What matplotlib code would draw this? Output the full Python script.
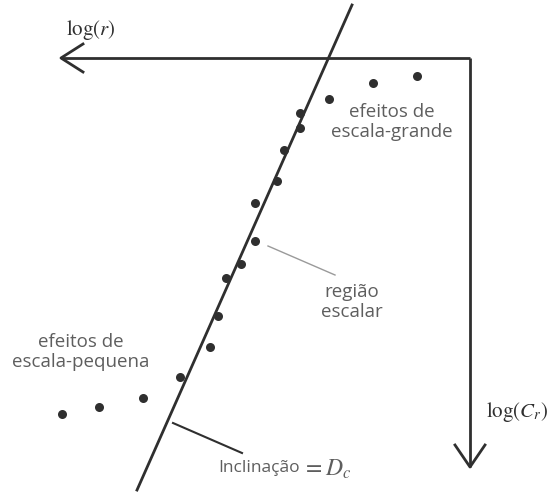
import numpy as np
import matplotlib
matplotlib.use("Agg")
import matplotlib.pyplot as plt

plt.rcParams['mathtext.fontset'] = 'stix'

# log(r) grows to the left, log(C_r) grows downward, origin at the axes corner
log_r = [53, 97, 141, 170, 170, 186, 193, 215, 215, 229, 244, 252, 260, 290, 327, 371, 408]
log_c = [18, 25, 41, 55, 70, 92, 123, 145, 183, 206, 220, 258, 289, 319, 340, 349, 356]

# straight-line fit through the scaling region
slope = 2.256          # D_c
intercept = -319.2
fit_r = [118, 333]

axis_len = 409
ink = '#2f2f2f'
grey = '#5e5e5e'

fig = plt.figure(figsize=(5.56, 4.92), dpi=100)
ax = fig.add_axes([0, 0, 1, 1])
ax.set_xlim(470, -86)
ax.set_ylim(434, -58)
ax.axis('off')

# the two axes with open arrow heads
ax.plot([0, axis_len], [0, 0], color=ink, lw=2, solid_capstyle='butt')
ax.plot([0, 0], [0, axis_len], color=ink, lw=2, solid_capstyle='butt')
ax.plot([axis_len - 22, axis_len, axis_len - 22], [-14, 0, 14], color=ink, lw=2)
ax.plot([-15, 0, 15], [axis_len - 22, axis_len, axis_len - 22], color=ink, lw=2)

fr = np.array(fit_r)
ax.plot(fr, slope * fr + intercept, color=ink, lw=2)
ax.plot(log_r, log_c, 'o', color=ink, ms=6.5, mec='none')

ax.text(379, -28, r'$\log(r)$', fontsize=15, ha='center', va='center', color=ink)
ax.text(-47, 354, r'$\log(C_r)$', fontsize=15, ha='center', va='center', color=ink)

sans = dict(family='Open Sans', fontsize=13.5, color=grey, ha='center', va='center',
            linespacing=1.1)
ax.text(78, 64, 'efeitos de\nescala-grande', **sans)
ax.text(389, 294, 'efeitos de\nescala-pequena', **sans)
ax.text(118, 244, 'região\nescalar', **sans)
ax.text(170, 410, 'Inclinação', family='Open Sans', fontsize=12.5, color=grey,
        ha='right', va='center')
ax.text(168, 411, r'$= D_c$', fontsize=17, color=grey, ha='left', va='center')

# pointer lines
ax.plot([202, 135], [188, 217], color='#9a9a9a', lw=1)
ax.plot([297, 228], [365, 395], color=ink, lw=1.5)

fig.savefig('out.png', dpi=100, facecolor='white')
